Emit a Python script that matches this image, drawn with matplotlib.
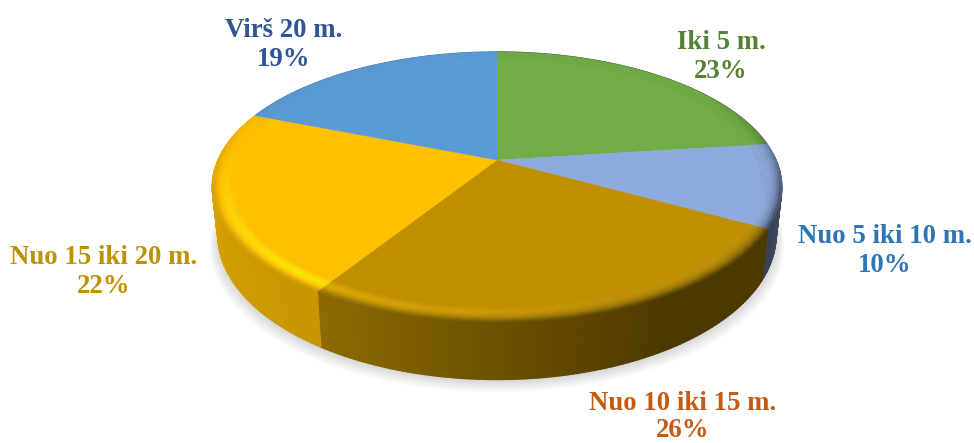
import numpy as np
import matplotlib
matplotlib.use("Agg")
import matplotlib.pyplot as plt
from matplotlib.collections import PolyCollection

# --- Data ---
labels = ["Iki 5 m.", "Nuo 5 iki 10 m.", "Nuo 10 iki 15 m.", "Nuo 15 iki 20 m.", "Virš 20 m."]
values = [23, 10, 26, 22, 19]

# --- Style ---
colors = ["#70AD47", "#8FAADC", "#BF8F00", "#FFC000", "#5B9BD5"]
label_colors = ["#548235", "#2E75B6", "#C55A11", "#BF9000", "#2F5597"]
label_pos = [(721, 57), (885, 251), (683, 417), (104, 272), (284, 45)]
label_spacing = [1.25, 1.25, 1.1, 1.25, 1.25]
# side brightness at the start / end of each slice (clockwise)
side_shade = [(0.55, 0.55), (0.58, 0.38), (0.40, 0.75), (0.78, 0.88), (0.8, 0.8)]

CX, CY = 497, 160
A, B, K = 279, 129.6, 0.2
DEPTH = 46
RIM = 0.93


def project(r, theta, depth=0.0):
    # theta clockwise from top, perspective onto the picture
    u = r * np.sin(theta)
    v = -r * np.cos(theta)
    w = 1 - K * v
    x = CX + A * u / w * (1 - 0.02 * depth / DEPTH)
    y = CY + (B * v + depth) / w
    return x, y


def rgb(hex_color):
    return np.array(matplotlib.colors.to_rgb(hex_color))


def highlight(theta):
    # light comes from lower left
    deg = np.degrees(theta)
    return np.clip(1 - abs(deg - 220) / 60, 0, 1)


def rim_fade(theta):
    # bevel only reads on the front of the pie
    deg = np.degrees(theta)
    return np.clip((np.cos(theta - np.pi) + 0.55) / 0.75, 0, 1) if deg < 300 else 0.0


def side_mult(i, frac):
    s0, s1 = side_shade[i]
    if i == 2:
        # the dark part of the front wall holds for a while
        frac = max(frac - 0.33, 0) / 0.67
    return s0 + (s1 - s0) * frac


fig = plt.figure(figsize=(9.74, 4.43), dpi=100)
ax = fig.add_axes([0, 0, 1, 1])
ax.set_xlim(0, 974)
ax.set_ylim(443, 0)
ax.axis("off")

ring = np.linspace(0, 2 * np.pi, 361)

# soft shadow, mostly under the pie
for grow in np.linspace(12, 0, 13):
    sx, sy = project(1.0, ring, DEPTH)
    sx = CX + (sx - CX) * (1 + grow / 400)
    sy = sy + 2 + grow * 0.9
    ax.fill(sx, sy, color="black", alpha=0.013, lw=0, zorder=1)

fracs = np.cumsum([0] + values) / sum(values) * 2 * np.pi
polys, poly_cols = [], []
for i in range(len(values)):
    steps = max(int(np.degrees(fracs[i + 1] - fracs[i])), 4)
    th = np.linspace(fracs[i], fracs[i + 1], steps + 1)
    base = rgb(colors[i])

    # side wall
    for j in range(steps):
        t0, t1 = th[j], th[j + 1]
        m = side_mult(i, j / steps)
        x0, y0 = project(1.0, t0)
        x1, y1 = project(1.0, t1)
        x2, y2 = project(1.0, t1, DEPTH)
        x3, y3 = project(1.0, t0, DEPTH)
        polys.append([(x0, y0), (x1, y1), (x2, y2), (x3, y3)])
        poly_cols.append(base * m)

ax.add_collection(PolyCollection(polys, facecolors=poly_cols, edgecolors=poly_cols, linewidths=1.0, zorder=2))

# top face + rim
polys, poly_cols = [], []
for i in range(len(values)):
    steps = max(int(np.degrees(fracs[i + 1] - fracs[i]) * 2), 4)
    th = np.linspace(fracs[i], fracs[i + 1], steps + 1)
    base = rgb(colors[i])

    fx, fy = project(RIM, th)
    ax.fill(np.r_[CX, fx], np.r_[CY, fy], color=colors[i], lw=0.3, zorder=3)

    bands = np.linspace(RIM, 1.0, 9)
    for j in range(steps):
        t0, t1 = th[j], th[j + 1]
        mid = (t0 + t1) / 2
        side = side_mult(i, j / steps)
        fade = rim_fade(mid)
        for b in range(len(bands) - 1):
            t = (b + 0.5) / (len(bands) - 1)
            glow = 1 + 0.22 * highlight(mid) * np.sin(np.pi * min(t * 1.15, 1))
            m = glow * (1 - t ** 3) + side * t ** 3
            m = 1 + (m - 1) * fade
            col = np.clip(base * m, 0, 1)
            r0, r1 = bands[b], bands[b + 1]
            quad = [project(r0, t0), project(r0, t1), project(r1, t1), project(r1, t0)]
            polys.append([(float(p[0]), float(p[1])) for p in quad])
            poly_cols.append(col)

ax.add_collection(PolyCollection(polys, facecolors=poly_cols, edgecolors=poly_cols, linewidths=0.3, zorder=4))

for name, val, col, (lx, ly), sp in zip(labels, values, label_colors, label_pos, label_spacing):
    ax.text(lx, ly, f"{name}\n{val}%", color=col, ha="center", va="center",
            family="Liberation Serif", fontweight="bold", fontsize=19.3, linespacing=sp, zorder=5)

fig.savefig("out.png", dpi=100)
